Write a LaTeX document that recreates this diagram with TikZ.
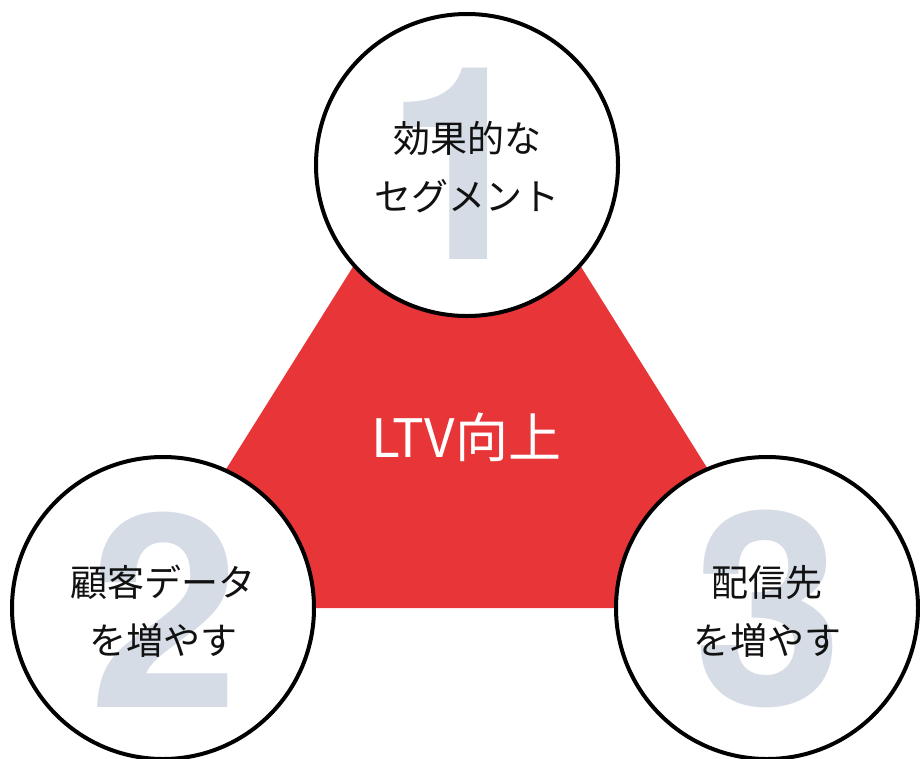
\documentclass[tikz,border=0pt]{standalone}
\usepackage{fontspec}
\setmainfont{TeX Gyre Heros}
\newfontfamily\numfont{TeX Gyre Heros}
\newfontfamily\cjk{Noto Sans CJK JP}
\definecolor{redfill}{HTML}{E83538}
\definecolor{digitcol}{HTML}{D5DCE6}
\definecolor{textcol}{HTML}{111111}
\tikzset{
  circbox/.style={circle,draw=black,fill=white,line width=4pt,minimum size=302pt,inner sep=0pt},
  bignum/.style={text=digitcol,inner sep=0pt,font=\numfont\bfseries\fontsize{270}{270}\selectfont},
  label/.style={text=textcol,align=center,inner sep=0pt,font=\cjk\fontsize{37}{58}\selectfont},
  centerlabel/.style={text=white,inner sep=0pt,font=\cjk\fontsize{53}{60}\selectfont}
}
\begin{document}
\begin{tikzpicture}[x=1pt,y=-1pt]
\useasboundingbox (0,0) rectangle (920,758);
\coordinate (apex) at (467,85);
\coordinate (bl) at (139,608);
\coordinate (br) at (795,608);
\fill[redfill] (apex) -- (bl) -- (br) -- cycle;
\node[circbox] (c1) at (467,165) {};
\node[circbox] (c2) at (163,608) {};
\node[circbox] (c3) at (767,608) {};
\node[bignum] (n1) at (461,164) {1};
\node[bignum] (n2) at (165,610) {2};
\node[bignum] (n3) at (769,609) {3};
\node[label] (t1) at (467,167) {効果的な\\セグメント};
\node[label] (t2) at (163,611) {顧客データ\\を増やす};
\node[label] (t3) at (767,611) {配信先\\を増やす};
\node[centerlabel] (ltv) at (466,437) {LTV向上};
\end{tikzpicture}
\end{document}
